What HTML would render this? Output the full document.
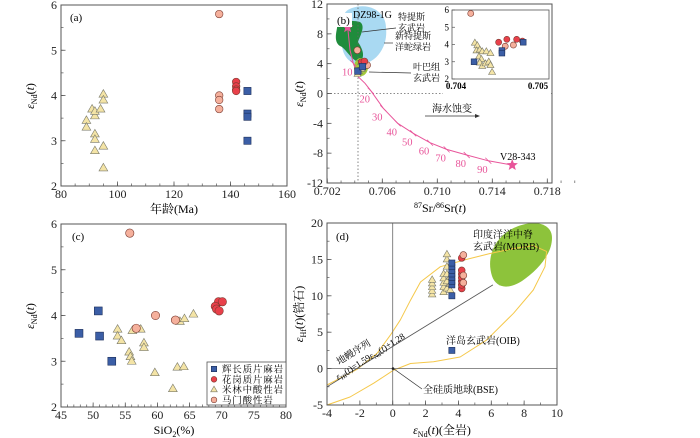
<!DOCTYPE html>
<html><head><meta charset="utf-8"><style>
body{margin:0;background:#fff}
svg{display:block;font-family:"Liberation Serif","Noto Serif CJK SC",serif}
</style></head><body>
<svg id="fig" width="700" height="438" viewBox="0 0 700 438" xmlns="http://www.w3.org/2000/svg">
<g id="gA"></g>
<g id="gB"></g>
<g id="gC"></g>
<g id="gD"></g>
</svg>
<script>
// ---------- data ----------
const aTriAge=[89,89,91,92,92,92,92,92,94,95,95,95,95];
const aTriNd=[3.45,3.3,3.7,3.55,3.65,3.15,3.03,2.78,3.7,4.03,3.9,2.88,2.4];
const aPeachAge=[136,136,136,136];
const aPeachNd=[5.8,4.0,3.9,3.7];
const aRedAge=[142,142,142,142];
const aRedNd=[4.3,4.2,4.13,4.1];
const aSqAge=[146,146,146,146];
const aSqNd=[4.1,3.6,3.53,3.0];
const cSqSi=[47.8,50.8,51.0,52.9];
const cSqNd=[3.61,4.1,3.55,3.0];
const cRedSi=[69.5,70.1,69.0,69.2,69.6];
const cRedNd=[4.3,4.3,4.2,4.14,4.1];
const cPeachSi=[55.7,56.7,59.7,62.8];
const cPeachNd=[5.8,3.72,4.0,3.9];
const cTriSi=[53.8,53.8,54.4,55.6,55.8,56.0,56.1,57.4,57.9,57.9,59.6,62.4,63.1,64.1,63.5,64.2,65.6];
const cTriNd=[3.7,3.55,3.45,3.2,3.1,3.0,3.67,3.7,3.4,3.3,2.75,2.4,2.87,2.88,3.87,3.93,4.03];
const bPeachSr=[0.70418,0.70460,0.70470];
const bPeachNd=[5.8,3.9,3.97];
const bRedSr=[0.70452,0.70462,0.70474,0.70481];
const bRedNd=[4.13,4.3,4.3,4.2];
const bSqSr=[0.70422,0.70456,0.70456,0.70482];
const bSqNd=[3.0,3.65,3.5,4.13];
const bTriSr=[0.70423,0.70426,0.70425,0.70429,0.70432,0.70437,0.70442,0.70428,0.70431,0.70429,0.70432,0.70436,0.70440,0.70442,0.70444];
const bTriNd=[4.1,3.95,3.65,3.7,3.6,3.6,3.5,3.3,3.15,2.95,2.75,2.9,3.0,2.8,2.4];
const mixSr=[0.70348,0.70365,0.70389,0.70425,0.70474,0.70516,0.70607,0.70712,0.70825,0.70947,0.71068,0.71214,0.71371,0.71545];
const mixNd=[8.87,5.83,4.05,2.25,1.37,0.37,-1.99,-4.0,-5.34,-6.6,-7.49,-8.25,-9.02,-9.6];
const mixTickIdx=[2,5,6,7,8,9,10,11,12];
const mixTickLbl=["10","20","30","40","50","60","70","80","90"];
const dTriNd=[2.4,2.4,2.4,2.4,2.4,3.1,3.1,3.1,3.1,3.1,3.3,3.3,3.3,3.3,3.3,3.3,3.5,3.5,3.5];
const dTriHf=[10.2,10.7,11.2,11.7,12.2,10.5,11.2,11.8,12.4,13,11,12,13,14,15,15.7,10.8,11.6,12.6];
const dSqNd=[3.6,3.6,3.6,3.6,3.6,3.6,3.6,3.6,3.6];
const dSqHf=[10,11.5,12,12.5,13,13.5,14,14.5,2.5];
const dRedNd=[4.2,4.2,4.2,4.2,4.2,4.2,4.2];
const dRedHf=[11,11.5,12,12.5,13,13.5,15.2];
const dPeachNd=[4.3,4.3,4.3];
const dPeachHf=[11.8,12.8,15.6];
const oibNd=[-4.0,-2.17,-0.95,-0.14,0.47,1.08,1.69,2.9,4.5,5.9,7.35,8.56,9.37,9.27,8.56,7.35,5.7,4.1,2.48,1.08,0.06,-1.16,-2.6,-4.0];
const oibHf=[-2.25,-0.1,2.1,4.6,6.7,9.4,11.9,14.0,15.0,15.8,16.5,16.9,16.1,14.0,10.8,7.6,3.9,1.6,0.95,0.7,-0.2,-2.0,-3.9,-5.0];
const mantleNd=[-4,6.1];
const mantleHf=[-2.5,11.5];

// ---------- helpers ----------
const NS="http://www.w3.org/2000/svg";
function mk(parent,tag,attrs,text){const e=document.createElementNS(NS,tag);for(const k in attrs)e.setAttribute(k,attrs[k]);if(text!==undefined)e.textContent=text;parent.appendChild(e);return e;}
function lin(d0,d1,p0,p1){return v=>p0+(v-d0)*(p1-p0)/(d1-d0);}
const COL={sq:"#3b5ea6",red:"#e8404a",peach:"#f5b09c",tri:"#f4e4a6"};
function marker(g,type,x,y,s){
  s=s||1;let e;
  if(type==="sq"){e=mk(g,"rect",{x:x-3.6*s,y:y-3.6*s,width:7.2*s,height:7.2*s,fill:COL.sq,stroke:"#1d2f5a","stroke-width":0.6});}
  else if(type==="tri"){e=mk(g,"polygon",{points:`${x},${y-4.6*s} ${x-4.4*s},${y+3*s} ${x+4.4*s},${y+3*s}`,fill:COL.tri,stroke:"#7a7a6a","stroke-width":0.6});}
  else {e=mk(g,"circle",{cx:x,cy:y,r:3.8*s,fill:COL[type],stroke:"#7a3a30","stroke-width":0.6});}
  return e;
}
function series(g,type,xs,ys,sx,sy,name,s){
  for(let i=0;i<xs.length;i++){
    const e=marker(g,type,sx(xs[i]),sy(ys[i]),s);
    
    
  }
}
function frame(g,x0,y0,x1,y1){
  const r=mk(g,"rect",{x:x0,y:y0,width:x1-x0,height:y1-y0,fill:"none",stroke:"#555","stroke-width":1});
  
  
}
function xticks(g,sx,y0,y1,majors,minors,fs,fmt){
  for(const v of minors){mk(g,"line",{x1:sx(v),x2:sx(v),y1:y1,y2:y1-2.5,stroke:"#555","stroke-width":0.7});}
  for(const v of majors){
    mk(g,"line",{x1:sx(v),x2:sx(v),y1:y1,y2:y1-4.5,stroke:"#555","stroke-width":0.8});
    const t=mk(g,"text",{x:sx(v),y:y1+12,"text-anchor":"middle","font-size":fs||12,fill:"#222"},fmt?fmt(v):String(v));
    
    
  }
}
function yticks(g,sy,x0,majors,minors,fs){
  for(const v of minors){mk(g,"line",{x1:x0,x2:x0+2.5,y1:sy(v),y2:sy(v),stroke:"#555","stroke-width":0.7});}
  for(const v of majors){
    mk(g,"line",{x1:x0,x2:x0+4.5,y1:sy(v),y2:sy(v),stroke:"#555","stroke-width":0.8});
    const t=mk(g,"text",{x:x0-4,y:sy(v)+4,"text-anchor":"end","font-size":fs||12,fill:"#222"},String(v));
    
    
  }
}
function range(a,b,s){const r=[];for(let v=a;v<=b+1e-9;v+=s)r.push(Math.round(v*1e6)/1e6);return r;}
function txt(g,attrs,html,name){const t=mk(g,"text",attrs);t.innerHTML=html;return t;}

// ---------- panel a ----------
(function(){
  const g=document.getElementById("gA");
  const sx=lin(80,160,61,287), sy=lin(2,6,186,5);
  frame(g,61,5,287,186);
  xticks(g,sx,5,186,[80,100,120,140,160],range(80,160,5),12);
  yticks(g,sy,61,[2,3,4,5,6],range(2,6,0.5),12);
  txt(g,{x:70,y:21,"font-size":11},"(a)","panel-label-a");
  series(g,"tri",aTriAge,aTriNd,sx,sy,"triangle-point-a");
  series(g,"peach",aPeachAge,aPeachNd,sx,sy,"peach-point-a");
  series(g,"red",aRedAge,aRedNd,sx,sy,"red-point-a");
  series(g,"sq",aSqAge,aSqNd,sx,sy,"square-point-a");
  txt(g,{x:174,y:213,"text-anchor":"middle","font-size":12},"年龄(Ma)","x-axis-title-a");
  txt(g,{x:0,y:0,transform:"translate(34,96) rotate(-90)","text-anchor":"middle","font-size":12},'<tspan font-style="italic">ε</tspan><tspan font-size="8" dy="3">Nd</tspan><tspan dy="-3">(</tspan><tspan font-style="italic">t</tspan>)',"y-axis-title-a");
})();

// ---------- panel b ----------
(function(){
  const g=document.getElementById("gB");
  const sx=lin(0.702,0.706,327.3,382.3), sy=lin(-12,12,183,4);
  mk(g,"path",{d:"M352,8 C370,2 386,12 386,28 C388,45 378,62 362,64 C348,66 340,52 342,38 C343,22 340,12 352,8 Z",fill:"#a9d9f2"});
  mk(g,"path",{d:"M337,28 C338,20 352,20 360,22 C366,26 360,36 358,42 C362,48 366,56 360,62 C352,62 346,48 340,46 C334,42 336,34 337,28 Z",fill:"#1f8c3c"});
  mk(g,"ellipse",{cx:361,cy:67,rx:7,ry:9,fill:"#a3c93c"});
  mk(g,"line",{x1:358,x2:358,y1:4,y2:183,stroke:"#666","stroke-width":0.8,"stroke-dasharray":"1.5,2"});
  mk(g,"line",{x1:327,x2:552,y1:sy(0),y2:sy(0),stroke:"#666","stroke-width":0.8,"stroke-dasharray":"1.5,2"});
  frame(g,327,4,552,183);
  xticks(g,sx,4,183,[0.702,0.706,0.710,0.714,0.718],range(0.702,0.720,0.001),12,v=>v.toFixed(3));
  yticks(g,sy,327,[-12,-8,-4,0,4,8,12],range(-12,12,2),12);
  let d="";for(let i=0;i<mixSr.length;i++){d+=(i?"L":"M")+sx(mixSr[i]).toFixed(1)+","+sy(mixNd[i]).toFixed(1);}
  const mc=mk(g,"path",{d:d,fill:"none",stroke:"#e8559a","stroke-width":1});
  
  
  for(let k=0;k<mixTickIdx.length;k++){
    const i=mixTickIdx[k], x=sx(mixSr[i]), y=sy(mixNd[i]);
    mk(g,"line",{x1:x-3,x2:x+3,y1:y-3,y2:y+3,stroke:"#e8559a","stroke-width":0.8});
    const t=mk(g,"text",{x:x-6,y:y+12,"text-anchor":"middle","font-size":10.5,fill:"#e8559a"},mixTickLbl[k]);
    
    
  }
  series(g,"tri",[0.7042,0.7043,0.7045],[2.6,3.0,3.3],sx,sy,"triangle-point-b",0.8);
  series(g,"peach",[0.70418,0.7049],[5.8,3.8],sx,sy,"peach-point-b",0.9);
  series(g,"red",[0.7045,0.7047],[4.2,4.3],sx,sy,"red-point-b",0.9);
  series(g,"sq",[0.70422,0.70456],[3.0,3.6],sx,sy,"square-point-b",0.9);
  const star=(cx,cy)=>{let p="";for(let i=0;i<10;i++){const r=i%2?2.6:6,a=-Math.PI/2+i*Math.PI/5;p+=(cx+r*Math.cos(a)).toFixed(1)+","+(cy+r*Math.sin(a)).toFixed(1)+" ";}return p;};
  mk(g,"polygon",{points:star(sx(mixSr[0]),sy(mixNd[0])),fill:"#e8559a"});
  mk(g,"polygon",{points:star(sx(mixSr[13]),sy(mixNd[13])),fill:"#e8559a"});
  mk(g,"rect",{x:336,y:13,width:16,height:14,fill:"#fff"});
  txt(g,{x:337,y:24,"font-size":11},"(b)","panel-label-b");
  txt(g,{x:353,y:18,"font-size":10},"DZ98-1G","dz98-label");
  txt(g,{x:398,y:20,"font-size":9},"特提斯","tethys-label-1");
  txt(g,{x:398,y:31,"font-size":9},"玄武岩","tethys-label-2");
  mk(g,"line",{x1:396,x2:362,y1:28,y2:32,stroke:"#333","stroke-width":0.7});
  txt(g,{x:395,y:39,"font-size":9},"新特提斯","neotethys-label-1");
  txt(g,{x:395,y:50,"font-size":9},"洋蛇绿岩","neotethys-label-2");
  mk(g,"line",{x1:393,x2:384,y1:43,y2:43,stroke:"#333","stroke-width":0.7});
  txt(g,{x:413,y:70,"font-size":9},"叶巴组","yeba-label-1");
  txt(g,{x:413,y:81,"font-size":9},"玄武岩","yeba-label-2");
  mk(g,"line",{x1:411,x2:369,y1:73,y2:72,stroke:"#333","stroke-width":0.7});
  txt(g,{x:432,y:112,"font-size":10},"海水蚀变","seawater-label");
  mk(g,"line",{x1:425,x2:478,y1:116,y2:116,stroke:"#333","stroke-width":0.7});
  mk(g,"polygon",{points:"480,116 475,114 475,118",fill:"#333"});
  txt(g,{x:500,y:160,"font-size":10},"V28-343","v28-label");
  const ix=lin(0.704,0.705,456,538), iy=lin(2,6,79,10);
  mk(g,"rect",{x:443,y:9,width:107,height:92,fill:"#fff"});
  mk(g,"rect",{x:452,y:10,width:97,height:69,fill:"#fff",stroke:"#555","stroke-width":0.8});
  for(const v of [2,3,4,5,6]){mk(g,"line",{x1:452,x2:455,y1:iy(v),y2:iy(v),stroke:"#555","stroke-width":0.7});txt(g,{x:449,y:iy(v)+3,"text-anchor":"end","font-size":9},String(v),"inset-y-tick");}
  for(const v of [0.704,0.705]){txt(g,{x:ix(v),y:89,"text-anchor":"middle","font-size":9,"font-weight":"bold"},v.toFixed(3),"inset-x-tick");}
  series(g,"tri",bTriSr,bTriNd,ix,iy,"triangle-point-inset",0.8);
  series(g,"peach",bPeachSr,bPeachNd,ix,iy,"peach-point-inset",0.8);
  series(g,"red",bRedSr,bRedNd,ix,iy,"red-point-inset",0.8);
  series(g,"sq",bSqSr,bSqNd,ix,iy,"square-point-inset",0.8);
  txt(g,{x:440,y:212,"text-anchor":"middle","font-size":12},'<tspan font-size="8" dy="-4">87</tspan><tspan dy="4">Sr/</tspan><tspan font-size="8" dy="-4">86</tspan><tspan dy="4">Sr(</tspan><tspan font-style="italic">t</tspan>)',"x-axis-title-b");
  txt(g,{x:0,y:0,transform:"translate(303,94) rotate(-90)","text-anchor":"middle","font-size":12},'<tspan font-style="italic">ε</tspan><tspan font-size="8" dy="3">Nd</tspan><tspan dy="-3">(</tspan><tspan font-style="italic">t</tspan>)',"y-axis-title-b");
})();

// ---------- panel c ----------
(function(){
  const g=document.getElementById("gC");
  const sx=lin(45,80,61,286), sy=lin(2,6,407,224);
  frame(g,61,224,286,407);
  xticks(g,sx,224,407,[45,50,55,60,65,70,75,80],range(45,80,1),12);
  yticks(g,sy,61,[2,3,4,5,6],range(2,6,0.5),12);
  txt(g,{x:72,y:240,"font-size":11},"(c)","panel-label-c");
  series(g,"sq",cSqSi,cSqNd,sx,sy,"square-point-c",1.1);
  series(g,"tri",cTriSi,cTriNd,sx,sy,"triangle-point-c");
  series(g,"peach",cPeachSi,cPeachNd,sx,sy,"peach-point-c",1.1);
  series(g,"red",cRedSi,cRedNd,sx,sy,"red-point-c",1.1);
  const lg=mk(g,"g",{});
  
  
  mk(lg,"rect",{x:207,y:362,width:79,height:43,fill:"#fff",stroke:"#555","stroke-width":0.8});
  const types=["sq","red","tri","peach"], labels=["辉长质片麻岩","花岗质片麻岩","米林中酸性岩","马门酸性岩"];
  for(let i=0;i<4;i++){
    const y=369+i*10.3;
    const m=marker(lg,types[i],214,y,0.75);
    
    txt(lg,{x:222,y:y+3.5,"font-size":9.5,"letter-spacing":"0.8"},labels[i],"legend-entry");
  }
  txt(g,{x:174,y:434,"text-anchor":"middle","font-size":12},'SiO<tspan font-size="8" dy="3">2</tspan><tspan dy="-3">(%)</tspan>',"x-axis-title-c");
  txt(g,{x:0,y:0,transform:"translate(34,316) rotate(-90)","text-anchor":"middle","font-size":12},'<tspan font-style="italic">ε</tspan><tspan font-size="8" dy="3">Nd</tspan><tspan dy="-3">(</tspan><tspan font-style="italic">t</tspan>)',"y-axis-title-c");
})();

// ---------- panel d ----------
(function(){
  const g=document.getElementById("gD");
  const sx=lin(-4,10,327,557), sy=lin(-5,20,405,223);
  mk(g,"path",{d:"M492,276 C486,258 494,236 516,227 C536,219 552,224 552,238 C552,254 538,270 522,281 C508,290 496,288 492,276 Z",fill:"#8dc33b"});
  let d="";for(let i=0;i<oibNd.length;i++){d+=(i?"L":"M")+sx(oibNd[i]).toFixed(1)+","+sy(oibHf[i]).toFixed(1);}
  const oib=mk(g,"path",{d:d,fill:"none",stroke:"#f5c84a","stroke-width":1,"stroke-linejoin":"round"});
  
  
  mk(g,"line",{x1:sx(0),x2:sx(0),y1:223,y2:405,stroke:"#666","stroke-width":0.8});
  mk(g,"line",{x1:327,x2:557,y1:sy(0),y2:sy(0),stroke:"#666","stroke-width":0.8});
  const ml=mk(g,"line",{x1:sx(mantleNd[0]),y1:sy(mantleHf[0]),x2:sx(mantleNd[1]),y2:sy(mantleHf[1]),stroke:"#555","stroke-width":0.8});
  
  
  frame(g,327,223,557,405);
  xticks(g,sx,223,405,[-4,-2,0,2,4,6,8,10],range(-4,10,1),12);
  yticks(g,sy,327,[-5,0,5,10,15,20],range(-5,20,2.5),12);
  txt(g,{x:336,y:240,"font-size":11},"(d)","panel-label-d");
  series(g,"tri",dTriNd,dTriHf,sx,sy,"triangle-point-d",0.85);
  series(g,"sq",dSqNd,dSqHf,sx,sy,"square-point-d",0.85);
  series(g,"red",dRedNd,dRedHf,sx,sy,"red-point-d",0.9);
  series(g,"peach",dPeachNd,dPeachHf,sx,sy,"peach-point-d",0.9);
  txt(g,{x:473,y:238,"font-size":10},"印度洋洋中脊","morb-label-1");
  txt(g,{x:473,y:250,"font-size":10},"玄武岩(MORB)","morb-label-2");
  txt(g,{x:446,y:344,"font-size":10},"洋岛玄武岩(OIB)","oib-label");
  txt(g,{x:423,y:393,"font-size":10},"全硅质地球(BSE)","bse-label");
  mk(g,"line",{x1:422,x2:394,y1:389,y2:369,stroke:"#333","stroke-width":0.7});
  mk(g,"circle",{cx:393,cy:368.6,r:1.3,fill:"#222"});
  txt(g,{x:0,y:0,transform:"translate(339,365) rotate(-32)","font-size":9.5},"地幔序列","mantle-array-label-1");
  txt(g,{x:0,y:0,transform:"translate(338,380) rotate(-32)","font-size":9},'<tspan font-style="italic">ε</tspan><tspan font-size="6" dy="2">Hf</tspan><tspan dy="-2">(</tspan><tspan font-style="italic">t</tspan>)=1.59<tspan font-style="italic">ε</tspan><tspan font-size="6" dy="2">Nd</tspan><tspan dy="-2">(</tspan><tspan font-style="italic">t</tspan>)+1.28',"mantle-array-label-2");
  txt(g,{x:442,y:434,"text-anchor":"middle","font-size":12},'<tspan font-style="italic">ε</tspan><tspan font-size="8" dy="3">Nd</tspan><tspan dy="-3">(</tspan><tspan font-style="italic">t</tspan>)(全岩)',"x-axis-title-d");
  txt(g,{x:0,y:0,transform:"translate(303,314) rotate(-90)","text-anchor":"middle","font-size":12},'<tspan font-style="italic">ε</tspan><tspan font-size="8" dy="3">Hf</tspan><tspan dy="-3">(</tspan><tspan font-style="italic">t</tspan>)(锆石)',"y-axis-title-d");
})();
</script>
</body></html>
